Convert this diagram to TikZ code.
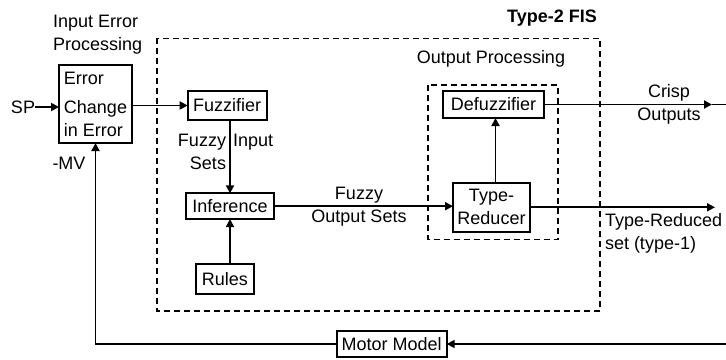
\documentclass[tikz,border=0pt]{standalone}
\usepackage{fontspec}
\setmainfont{Liberation Sans}
\usetikzlibrary{arrows.meta}
\begin{document}
\begin{tikzpicture}[x=1pt,y=-1pt,
  every node/.style={font=\fontsize{18}{23}\selectfont, inner sep=0pt, outer sep=0pt},
  blk/.style={draw, line width=1.8pt, minimum width=#1},
  wire/.style={line width=1.8pt},
  arr/.style={wire, -{Triangle[length=8pt,width=8pt]}},
  frame/.style={line width=1.6pt, dash pattern=on 6pt off 4pt}]
\useasboundingbox (0,0) rectangle (726,359);

% dashed frames: whole FIS and the output-processing stage
\draw[frame] (156.7,38.3) rectangle (600,311);
\draw[frame] (428,85) rectangle (558,239.3);

% blocks
\node[blk=73, minimum height=78, align=left] (err) at (95.5,104) {Error\\[6pt]Change\\in Error};
\node[blk=79, minimum height=29] (fuz) at (227.2,105.5) {Fuzzifier};
\node[blk=87.7, minimum height=25.7] (inf) at (230,206.2) {Inference};
\node[blk=58, minimum height=29.7] (rules) at (225,279) {Rules};
\node[blk=101, minimum height=27] (defuz) at (493.5,104.5) {Defuzzifier};
\node[blk=77, minimum height=48.7, align=center] (tr) at (491.5,207.3) {Type-\\Reducer};
\node[blk=110, minimum height=26] (motor) at (391.7,344) {Motor Model};

% labels
\node[anchor=west, align=left] (iep) at (53,35) {Input Error\\Processing};
\node[font=\fontsize{18}{23}\selectfont\bfseries] (fis) at (552,18) {Type-2 FIS};
\node (outp) at (491,59) {Output Processing};
\node (sp) at (23,107) {SP};
\node (mv) at (69,163) {-MV};
\node[anchor=north east, align=right] (fis1) at (226,134) {Fuzzy\\Sets};
\node[anchor=north west] (fis2) at (233,134) {Input};
\node[align=center] (fos) at (359,206.3) {Fuzzy\\Output Sets};
\node[align=center] (crisp) at (669,104.5) {Crisp\\Outputs};
\node[anchor=west, align=left] (trs) at (605,233.3) {Type-Reduced\\ set (type-1)};

% free ends
\coordinate (crisptip) at (712,104.5);
\coordinate (crispend) at (726,104.5);
\coordinate (trtip) at (715,207.3);
\coordinate (fbin) at (726,344);

% connectors
\draw[arr] (sp.east) -- (err.west |- sp);
\draw[arr] (err.east |- fuz.west) -- (fuz.west);
\draw[arr] (fuz.south -| inf) -- (inf.north);
\draw[arr] (rules.north -| inf) -- (inf.south);
\draw[arr] (inf.east) -- (inf.east -| tr.west);
\draw[arr] ([xshift=4pt]tr.north) -- ([xshift=4pt]tr.north |- defuz.south);
\draw[arr] (defuz.east) -- (crisptip);
\draw[wire] (crisptip) -- (crispend);
\draw[arr] (tr.east) -- (trtip);
\draw[arr] (fbin) -- (motor.east);
\draw[arr] (motor.west) -| (err.south);
\end{tikzpicture}
\end{document}
